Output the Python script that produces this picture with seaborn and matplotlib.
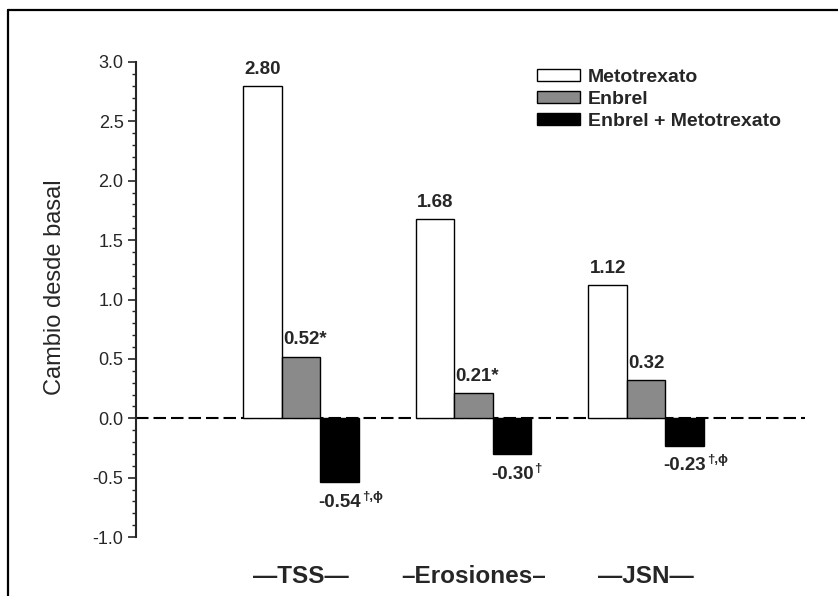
import pandas as pd
import numpy as np
import matplotlib
matplotlib.use("Agg")
import matplotlib.pyplot as plt
import seaborn as sns
from matplotlib.lines import Line2D
from matplotlib.ticker import MultipleLocator, FormatStrFormatter

categorias = ["TSS", "Erosiones", "JSN"]
etiquetas_x = ["—TSS—", "–Erosiones–", "—JSN—"]
tratamientos = ["Metotrexato", "Enbrel", "Enbrel + Metotrexato"]
metotrexato = [2.80, 1.68, 1.12]
enbrel = [0.52, 0.21, 0.32]
combinado = [-0.54, -0.30, -0.23]
texto_metotrexato = ["2.80", "1.68", "1.12"]
texto_enbrel = ["0.52*", "0.21*", "0.32"]
texto_combinado = ["-0.54", "-0.30", "-0.23"]
super_combinado = ["†,ϕ", "†", "†,ϕ"]
colores = ["white", "#8a8a8a", "black"]

df = pd.DataFrame({
    "categoria": categorias * 3,
    "tratamiento": np.repeat(tratamientos, 3),
    "valor": metotrexato + enbrel + combinado,
})

sns.set_style("ticks")
plt.rcParams["font.family"] = ["Liberation Sans", "DejaVu Sans"]
plt.rcParams["axes.unicode_minus"] = False

fig = plt.figure(figsize=(8.38, 5.96), dpi=100)
# eje: x 136..805 px, y 62..537 px
ax = fig.add_axes([136 / 838, 1 - 537 / 596, 669 / 838, 475 / 596])

sns.barplot(data=df, x="categoria", y="valor", hue="tratamiento",
            order=categorias, hue_order=tratamientos, palette=colores,
            width=0.67, edgecolor="black", linewidth=1, saturation=1,
            errorbar=None, ax=ax)

ax.axhline(0, color="black", lw=1.5, dashes=(6, 2.4), zorder=0.5)

# etiquetas de valores
for cont, textos in zip(ax.containers[:2], [texto_metotrexato, texto_enbrel]):
    for bar, t in zip(cont, textos):
        x = bar.get_x() + bar.get_width() / 2
        dx = 2.5 if t.endswith("*") else 0
        ax.annotate(t, (x, bar.get_height()), xytext=(dx, 12),
                    textcoords="offset points", ha="center", va="center",
                    fontsize=13.5, fontweight="bold")

negativos = []
for bar, t in zip(ax.containers[2], texto_combinado):
    x = bar.get_x() + bar.get_width() / 2
    txt = ax.annotate(t, (x, bar.get_height()), xytext=(0, -14.5),
                      textcoords="offset points", ha="center", va="center",
                      fontsize=13.5, fontweight="bold")
    negativos.append(txt)

ax.set_xlim(-0.957, 2.921)
ax.set_ylim(-1, 3)
ax.set_yticks(np.arange(-1, 3.01, 0.5))
ax.yaxis.set_major_formatter(FormatStrFormatter("%.1f"))
ax.yaxis.set_minor_locator(MultipleLocator(0.1))
ax.tick_params(axis="y", which="major", length=6, width=1.2, labelsize=13, pad=3)
ax.tick_params(axis="y", which="minor", length=3, width=1)
ax.set_xticks(range(3))
ax.set_xticklabels(etiquetas_x, fontsize=17.5, fontweight="bold")
ax.tick_params(axis="x", length=0, pad=20)
ax.set_xlabel("")
ax.set_ylabel("Cambio desde basal", fontsize=17)
ax.yaxis.set_label_coords(-0.105, 0.525)

for s in ["top", "right", "bottom"]:
    ax.spines[s].set_visible(False)
ax.spines["left"].set_linewidth(1.5)

leg = ax.get_legend()
handles = leg.legend_handles
labels = [t.get_text() for t in leg.get_texts()]
leg.remove()
ax.legend(handles, labels, loc="upper left",
          bbox_to_anchor=(537 / 838, 1 - 69 / 596), bbox_transform=fig.transFigure,
          frameon=False, prop={"weight": "bold", "size": 14},
          handlelength=2.2, handleheight=0.55, handletextpad=0.4,
          labelspacing=0.25, borderpad=0, borderaxespad=0)

# superindices de significancia
fig.canvas.draw()
for txt, sup in zip(negativos, super_combinado):
    bb = txt.get_window_extent()
    ax.annotate(sup, (bb.x1 + 1, bb.y1 + 3), xycoords="figure pixels",
                ha="left", va="top", fontsize=9.5, fontweight="bold")

# marco de la figura
fig.add_artist(Line2D([8 / 838, 1], [1 - 10 / 596] * 2, transform=fig.transFigure,
                      color="black", lw=1.6))
fig.add_artist(Line2D([8 / 838] * 2, [0, 1 - 10 / 596], transform=fig.transFigure,
                      color="black", lw=1.6))

fig.savefig("out.png", dpi=100)
